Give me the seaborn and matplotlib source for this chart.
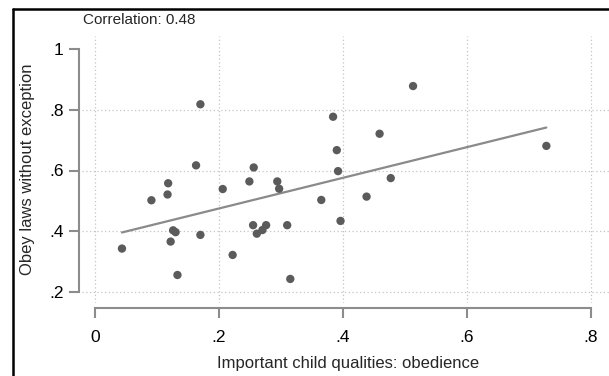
import numpy as np
import pandas as pd
import matplotlib
matplotlib.use("Agg")
import matplotlib.pyplot as plt
from matplotlib.lines import Line2D
import seaborn as sns

# Country-level shares: obedience as an important child quality vs. obeying laws without exception
obedience = [0.0435, 0.091, 0.117, 0.118, 0.122, 0.126, 0.130, 0.133, 0.163, 0.170,
             0.170, 0.206, 0.222, 0.249, 0.255, 0.256, 0.261, 0.270, 0.276, 0.294,
             0.297, 0.310, 0.315, 0.365, 0.384, 0.390, 0.392, 0.396, 0.438, 0.459,
             0.477, 0.513, 0.728]
obey_laws = [0.343, 0.502, 0.521, 0.558, 0.366, 0.403, 0.397, 0.256, 0.617, 0.818,
             0.388, 0.539, 0.322, 0.564, 0.420, 0.610, 0.392, 0.404, 0.420, 0.564,
             0.540, 0.420, 0.243, 0.503, 0.777, 0.667, 0.598, 0.434, 0.514, 0.721,
             0.575, 0.878, 0.681]

x_ticks = [0, 0.2, 0.4, 0.6, 0.8]
x_tick_labels = ["0", ".2", ".4", ".6", ".8"]
y_ticks = [0.2, 0.4, 0.6, 0.8, 1.0]
y_tick_labels = [".2", ".4", ".6", ".8", "1"]
correlation_label = "Correlation: 0.48"

df = pd.DataFrame({"obedience": obedience, "obey_laws": obey_laws})

sns.set_style("white")
plt.rcParams["font.family"] = ["Liberation Sans", "DejaVu Sans"]

W, H = 609, 376
fig = plt.figure(figsize=(W / 100, H / 100), dpi=100)
fig.patch.set_facecolor("white")

# plot region in pixel units
px_left, px_right, px_top, px_bottom = 82, 615, 36, 303
ax = fig.add_axes([px_left / W, 1 - px_bottom / H,
                   (px_right - px_left) / W, (px_bottom - px_top) / H])

point_color = "#5b5b5b"
line_color = "#8a8a8a"
axis_color = "#8c8c8c"
grid_color = "#c4c4c4"

sns.regplot(data=df, x="obedience", y="obey_laws", ax=ax, ci=None,
            scatter_kws=dict(s=36, color=point_color, edgecolor="none", alpha=1, zorder=3),
            line_kws=dict(color=line_color, lw=1.6, zorder=2))

# data-to-pixel mapping: x=0 at 95px, 620 px per unit; y=1 at 49px, 303.75 px per unit
ax.set_xlim((px_left - 95) / 620, (px_right - 95) / 620)
ax.set_ylim(1 - (px_bottom - 49) / 303.75, 1 + (49 - px_top) / 303.75)

ax.set_xticks(x_ticks)
ax.set_xticklabels(x_tick_labels)
ax.set_yticks(y_ticks)
ax.set_yticklabels(y_tick_labels)

for side in ("top", "right"):
    ax.spines[side].set_visible(False)
ax.spines["left"].set_position(("outward", 2.2))
ax.spines["left"].set_bounds(0.2, 1.0)
ax.spines["bottom"].set_position(("outward", 3.6))
ax.spines["bottom"].set_bounds(0, 0.8)
for side in ("left", "bottom"):
    ax.spines[side].set_color(axis_color)
    ax.spines[side].set_linewidth(1.5)

ax.tick_params(axis="both", direction="out", length=7.5, width=1.5, color=axis_color,
               labelsize=12.5, labelcolor="black")
ax.tick_params(axis="x", pad=8)
ax.tick_params(axis="y", pad=3.5)
ax.tick_params(bottom=True, left=True)

ax.grid(True, color=grid_color, linestyle=(0, (1, 2)), linewidth=0.9, zorder=0)
ax.set_axisbelow(True)
ax.yaxis.get_gridlines()[-1].set_visible(False)

ax.set_xlabel("Important child qualities: obedience", fontsize=12, labelpad=8)
ax.set_ylabel("Obey laws without exception", fontsize=12, labelpad=10)

fig.text(83 / W, 1 - 20 / H, correlation_label, fontsize=11, ha="left", va="center")

# outer frame lines along the left and top edges
fig.add_artist(Line2D([13 / W, 13 / W], [0, 1 - 9 / H], color="black", lw=1.8,
                      transform=fig.transFigure))
fig.add_artist(Line2D([13 / W, 1], [1 - 9 / H, 1 - 9 / H], color="black", lw=1.8,
                      transform=fig.transFigure))

fig.savefig("out.png", dpi=100, facecolor="white")
